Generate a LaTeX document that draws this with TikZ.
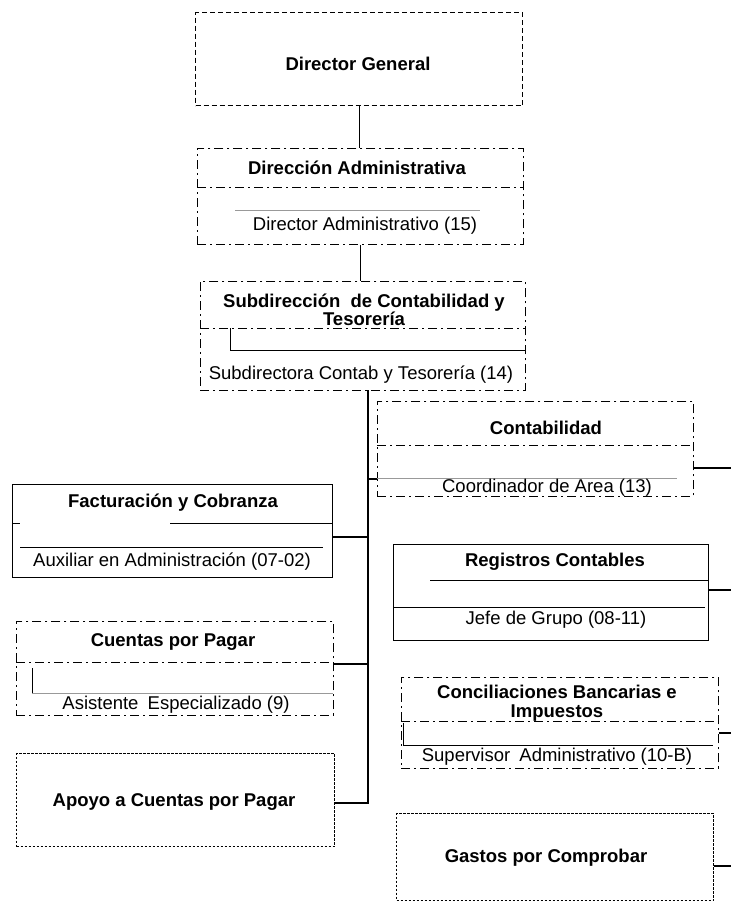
\documentclass[tikz,border=0pt]{standalone}
\usepackage{fontspec}
\setmainfont{Liberation Sans}
\begin{document}
\begin{tikzpicture}[x=1pt,y=-1pt]
\tikzset{
  bx/.style={draw, rectangle, inner sep=0pt, anchor=north west},
  dgline/.style={dash pattern=on 5pt off 3pt, line width=1.3pt},
  ddline/.style={dash pattern=on 9pt off 4pt on 2pt off 4pt, line width=0.8pt},
  dotline/.style={dash pattern=on 2.5pt off 1.5pt, line width=1.2pt},
  solidline/.style={solid, line width=1.2pt},
  ttl/.style={font=\bfseries\fontsize{18.5}{18.5}\selectfont, align=center, inner sep=0pt},
  subtxt/.style={font=\fontsize{18.5}{18}\selectfont, inner sep=0pt},
  conn/.style={line width=1.3pt},
  faint/.style={line width=0.7pt, black!40},
  inner/.style={line width=1pt},
}
\useasboundingbox (0,0) rectangle (731,905);

% boxes
\node[bx, dgline, minimum width=327pt, minimum height=93pt] (dg) at (195,12) {};
\node[bx, ddline, minimum width=326pt, minimum height=96pt] (da) at (197,148) {};
\node[bx, ddline, minimum width=325pt, minimum height=109pt] (sub) at (200,281) {};
\node[bx, ddline, minimum width=316pt, minimum height=95pt] (cont) at (377,401) {};
\node[bx, solidline, minimum width=320pt, minimum height=93pt] (fact) at (12,484) {};
\node[bx, solidline, minimum width=315pt, minimum height=96pt] (reg) at (393,544) {};
\node[bx, ddline, minimum width=317pt, minimum height=94pt] (cxp) at (16,621) {};
\node[bx, ddline, minimum width=317pt, minimum height=91pt] (conc) at (401,677) {};
\node[bx, dotline, minimum width=318pt, minimum height=93pt] (apoyo) at (16,753) {};
\node[bx, dotline, minimum width=317pt, minimum height=87pt] (gastos) at (396,813) {};

% inner dividers
\draw[ddline] (197,187) -- (523,187);
\draw[faint] (235,210) -- (480,210);
\draw[ddline] (200,328) -- (525,328);
\draw[inner] (230,328) -- (230,350) -- (525,350);
\draw[ddline] (377,445) -- (693,445);
\draw[faint] (377,478) -- (677,478);
\draw[inner] (170,523) -- (332,523);
\draw[inner] (12,523) -- (20,523);
\draw[inner] (20,547) -- (323,547);
\draw[inner] (430,580) -- (708,580);
\draw[inner] (393,607) -- (705,607);
\draw[ddline] (16,662) -- (333,662);
\draw[faint] (32,693) -- (333,693);
\draw[inner] (32,668) -- (32,693);
\draw[ddline] (401,721) -- (718,721);
\draw[inner] (403,723) -- (403,745) -- (713,745);

% texts
\node[ttl] (t1) at (358,64) {Director General};
\node[ttl] (t2) at (357,168) {Dirección Administrativa};
\node[subtxt] (s2) at (365,226) {Director Administrativo (15)};
\node[ttl] (t3) at (364,310) {Subdirección\hspace{5pt} de Contabilidad y\\Tesorería};
\node[subtxt] (s3) at (361,375) {Subdirectora Contab y Tesorería (14)};
\node[ttl] (t4) at (546,428) {Contabilidad};
\node[subtxt] (s4) at (547,488) {Coordinador de Area (13)};
\node[ttl] (t5) at (173,503) {Facturación y Cobranza};
\node[subtxt] (s5) at (172,562) {Auxiliar en Administración (07-02)};
\node[ttl] (t6) at (555,562) {Registros Contables};
\node[subtxt] (s6) at (556,620) {Jefe de Grupo (08-11)};
\node[ttl] (t7) at (173,642) {Cuentas por Pagar};
\node[subtxt] (s7) at (176,705) {Asistente\hspace{4pt} Especializado (9)};
\node[ttl] (t8) at (557,703) {Conciliaciones Bancarias e\\Impuestos};
\node[subtxt] (s8) at (557,757) {Supervisor\hspace{4pt} Administrativo (10-B)};
\node[ttl] (t9) at (174,802) {Apoyo a Cuentas por Pagar};
\node[ttl] (t10) at (546,858) {Gastos por Comprobar};

% connectors
\draw[conn] (dg.south) -- (dg.south |- da.north);
\draw[conn] (da.south) -- (da.south |- sub.north);
\coordinate (ttop) at (368,390);
\coordinate (tbot) at (368,803);
\draw[conn] (ttop) -- (tbot) -- (tbot -| apoyo.east);
\coordinate (jc) at (368,479);
\draw[conn] (jc) -- (jc -| cont.west);
\coordinate (jf) at (368,537);
\draw[conn] (jf) -- (jf -| fact.east);
\coordinate (jp) at (368,664);
\draw[conn] (jp) -- (jp -| cxp.east);
\coordinate (rc) at (731,468);
\draw[conn] (rc -| cont.east) -- (rc);
\coordinate (rr) at (731,590);
\draw[conn] (rr -| reg.east) -- (rr);
\coordinate (rb) at (731,733);
\draw[conn] (rb -| conc.east) -- (rb);
\coordinate (rg) at (731,866);
\draw[conn] (rg -| gastos.east) -- (rg);
\end{tikzpicture}
\end{document}
